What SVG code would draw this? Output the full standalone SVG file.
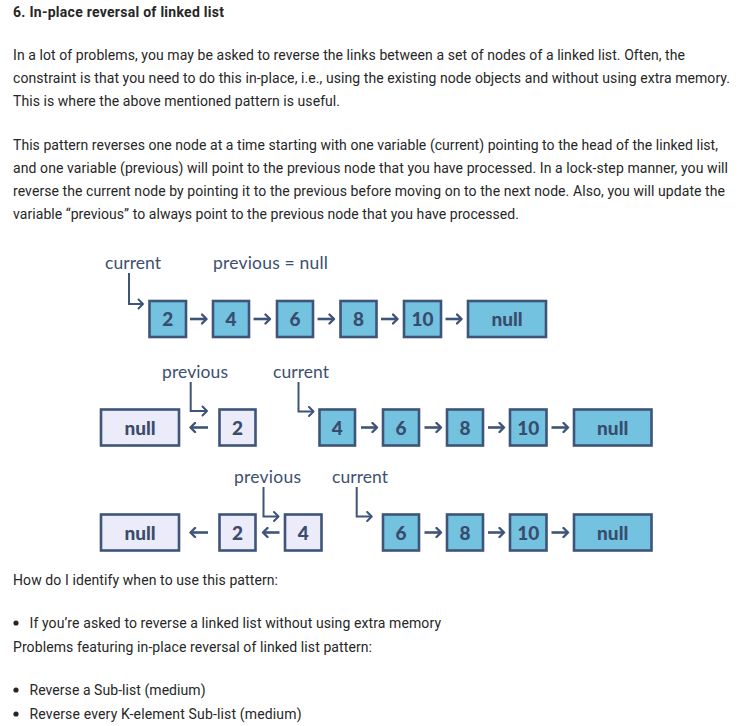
<svg xmlns="http://www.w3.org/2000/svg" width="749" height="726" viewBox="0 0 749 726">
<style>
.body{font-family:"Roboto","Liberation Sans",sans-serif;font-size:14px;fill:#262626}
.title{font-family:"Roboto","Liberation Sans",sans-serif;font-size:14px;font-weight:bold;fill:#262626}
.lbl{font-family:"Lato","Open Sans",sans-serif;font-size:17.5px;fill:#3d5070}
.nt{font-family:"Lato","Open Sans",sans-serif;font-size:19px;font-weight:900;fill:#3a4c6c;text-anchor:middle}
.blue{fill:#72c2e0;stroke:#3e5479;stroke-width:2.6}
.lav{fill:#ecebf9;stroke:#3e5479;stroke-width:2.6}
.link{fill:none;stroke:#3e5479;stroke-width:2.6;marker-end:url(#chev)}
.ptr{fill:none;stroke:#3e5479;stroke-width:2;marker-end:url(#chev2)}
</style>
<defs>
<marker id="chev" viewBox="0 0 8 12" refX="6" refY="6" markerWidth="8" markerHeight="12" markerUnits="userSpaceOnUse" orient="auto">
<path d="M1.5,1.5 L6,6 L1.5,10.5" fill="none" stroke="#3e5479" stroke-width="2.4" stroke-linecap="round" stroke-linejoin="round"/>
</marker>
<marker id="chev2" viewBox="0 0 8 12" refX="6" refY="6" markerWidth="8" markerHeight="12" markerUnits="userSpaceOnUse" orient="auto">
<path d="M1.5,1.5 L6,6 L1.5,10.5" fill="none" stroke="#3e5479" stroke-width="2" stroke-linecap="round" stroke-linejoin="round"/>
</marker>
</defs>
<rect width="749" height="726" fill="#ffffff"/>

<g id="text-top">
<text class="title" x="13" y="17" textLength="211" lengthAdjust="spacing">6. In-place reversal of linked list</text>
<text class="body" x="13" y="60" textLength="672" lengthAdjust="spacing">In a lot of problems, you may be asked to reverse the links between a set of nodes of a linked list. Often, the</text>
<text class="body" x="13" y="83" textLength="717" lengthAdjust="spacing">constraint is that you need to do this in-place, i.e., using the existing node objects and without using extra memory.</text>
<text class="body" x="13" y="106" textLength="327" lengthAdjust="spacing">This is where the above mentioned pattern is useful.</text>
<text class="body" x="13" y="150" textLength="705" lengthAdjust="spacing">This pattern reverses one node at a time starting with one variable (current) pointing to the head of the linked list,</text>
<text class="body" x="13" y="173" textLength="715" lengthAdjust="spacing">and one variable (previous) will point to the previous node that you have processed. In a lock-step manner, you will</text>
<text class="body" x="13" y="196" textLength="712" lengthAdjust="spacing">reverse the current node by pointing it to the previous before moving on to the next node. Also, you will update the</text>
<text class="body" x="13" y="219" textLength="506" lengthAdjust="spacing">variable “previous” to always point to the previous node that you have processed.</text>
</g>

<g id="labels">
<text class="lbl" x="105" y="269" textLength="56" lengthAdjust="spacing">current</text>
<text class="lbl" x="213" y="269" textLength="115" lengthAdjust="spacing">previous = null</text>
<text class="lbl" x="162" y="378" textLength="66" lengthAdjust="spacing">previous</text>
<text class="lbl" x="273" y="378" textLength="56" lengthAdjust="spacing">current</text>
<text class="lbl" x="234" y="483" textLength="67" lengthAdjust="spacing">previous</text>
<text class="lbl" x="332" y="483" textLength="56" lengthAdjust="spacing">current</text>
</g>

<g id="row1">
<g id="r1-n2"><rect class="blue" x="149.5" y="301" width="36.5" height="36"/><text class="nt" x="167.7" y="326">2</text></g>
<g id="r1-n4"><rect class="blue" x="213" y="301" width="36" height="36"/><text class="nt" x="231" y="326">4</text></g>
<g id="r1-n6"><rect class="blue" x="277" y="301" width="36" height="36"/><text class="nt" x="295" y="326">6</text></g>
<g id="r1-n8"><rect class="blue" x="340.5" y="301" width="36" height="36"/><text class="nt" x="358.5" y="326">8</text></g>
<g id="r1-n10"><rect class="blue" x="404" y="301" width="37" height="36"/><text class="nt" x="422.5" y="326">10</text></g>
<g id="r1-null"><rect class="blue" x="468" y="301" width="78" height="36"/><text class="nt" x="507" y="326">null</text></g>
</g>

<g id="row2">
<g id="r2-null"><rect class="lav" x="101" y="409.5" width="78" height="36"/><text class="nt" x="140" y="434.5">null</text></g>
<g id="r2-n2"><rect class="lav" x="219.5" y="409.5" width="36" height="36"/><text class="nt" x="237.5" y="434.5">2</text></g>
<g id="r2-n4"><rect class="blue" x="319.5" y="409.5" width="35.5" height="36"/><text class="nt" x="337.2" y="434.5">4</text></g>
<g id="r2-n6"><rect class="blue" x="383" y="409.5" width="36" height="36"/><text class="nt" x="401" y="434.5">6</text></g>
<g id="r2-n8"><rect class="blue" x="447" y="409.5" width="36" height="36"/><text class="nt" x="465" y="434.5">8</text></g>
<g id="r2-n10"><rect class="blue" x="510" y="409.5" width="36.5" height="36"/><text class="nt" x="528.2" y="434.5">10</text></g>
<g id="r2-null2"><rect class="blue" x="574" y="409.5" width="77.5" height="36"/><text class="nt" x="612.7" y="434.5">null</text></g>
</g>

<g id="row3">
<g id="r3-null"><rect class="lav" x="101" y="514.5" width="78" height="36"/><text class="nt" x="140" y="539.5">null</text></g>
<g id="r3-n2"><rect class="lav" x="219.5" y="514.5" width="36" height="36"/><text class="nt" x="237.5" y="539.5">2</text></g>
<g id="r3-n4"><rect class="lav" x="285" y="514.5" width="36.5" height="36"/><text class="nt" x="303.2" y="539.5">4</text></g>
<g id="r3-n6"><rect class="blue" x="383" y="514.5" width="36" height="36"/><text class="nt" x="401" y="539.5">6</text></g>
<g id="r3-n8"><rect class="blue" x="447" y="514.5" width="36" height="36"/><text class="nt" x="465" y="539.5">8</text></g>
<g id="r3-n10"><rect class="blue" x="510" y="514.5" width="36.5" height="36"/><text class="nt" x="528.2" y="539.5">10</text></g>
<g id="r3-null2"><rect class="blue" x="574" y="514.5" width="77.5" height="36"/><text class="nt" x="612.7" y="539.5">null</text></g>
</g>

<g id="connectors">
<path class="ptr" d="M129,273 V304 H143"/>
<path class="link" d="M190,319 H206.5"/>
<path class="link" d="M253.5,319 H270"/>
<path class="link" d="M317.5,319 H334"/>
<path class="link" d="M381,319 H397.5"/>
<path class="link" d="M445.5,319 H461.5"/>

<path class="ptr" d="M190.7,382 V411 H207"/>
<path class="ptr" d="M298.5,382 V411.5 H313.5"/>
<path class="link" d="M208,427.5 H190.5"/>
<path class="link" d="M361,427.5 H377"/>
<path class="link" d="M424.5,427.5 H441"/>
<path class="link" d="M488,427.5 H504"/>
<path class="link" d="M551.5,427.5 H568"/>

<path class="ptr" d="M263.5,487 V516.5 H278.5"/>
<path class="ptr" d="M356.7,487 V516.5 H371.7"/>
<path class="link" d="M208,532.5 H190.5"/>
<path class="link" d="M279.5,532.5 H263"/>
<path class="link" d="M424.5,532.5 H441"/>
<path class="link" d="M488,532.5 H504"/>
<path class="link" d="M551.5,532.5 H568"/>
</g>

<g id="text-bottom">
<text class="body" x="13" y="585" textLength="265" lengthAdjust="spacing">How do I identify when to use this pattern:</text>
<circle cx="16" cy="623" r="2.6" fill="#262626"/>
<text class="body" x="29.5" y="628" textLength="411.5" lengthAdjust="spacing">If you’re asked to reverse a linked list without using extra memory</text>
<text class="body" x="13" y="652" textLength="359" lengthAdjust="spacing">Problems featuring in-place reversal of linked list pattern:</text>
<circle cx="16" cy="690" r="2.6" fill="#262626"/>
<text class="body" x="29.5" y="694.5" textLength="176" lengthAdjust="spacing">Reverse a Sub-list (medium)</text>
<circle cx="16" cy="714" r="2.6" fill="#262626"/>
<text class="body" x="29.5" y="718.5" textLength="272" lengthAdjust="spacing">Reverse every K-element Sub-list (medium)</text>
</g>
</svg>
